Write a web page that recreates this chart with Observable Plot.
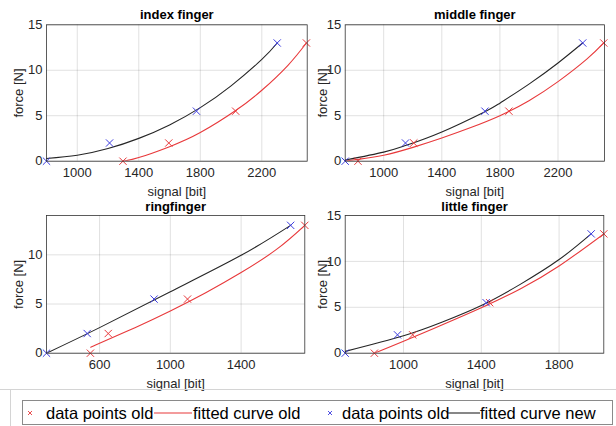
<!DOCTYPE html>
<html>
<head>
<meta charset="utf-8">
<script src="https://cdn.jsdelivr.net/npm/d3@7"></script>
<script src="https://cdn.jsdelivr.net/npm/@observablehq/plot@0.6"></script>
<style>
  html, body { margin: 0; padding: 0; background: #fff; }
  #chart { position: relative; width: 616px; height: 426px; overflow: hidden; font-family: "Liberation Sans", Arial, sans-serif; color: #262626; }
  #chart svg.panel { position: absolute; }
  .legend { position: absolute; left: 22px; top: 400px; width: 591px; height: 25px; box-sizing: border-box; border: 1px solid #8a8a8a; background: #fff; }
  .legend .item { position: absolute; top: 1px; line-height: 22px; font-size: 16.5px; color: #000; white-space: nowrap; }
  .legend svg { position: absolute; top: 0; }
</style>
</head>
<body>
<div id="chart"></div>
<script>
// ---------------- data ----------------
const panelTitles = ["index finger", "middle finger", "ringfinger", "little finger"];
const forceLevels = [0, 2, 5.5, 13];

// index finger
const indexOldX = [1297, 1595, 2030, 2490];
const indexNewX = [800, 1210, 1775, 2300];
const indexOldCurveX = [1297, 1400, 1600, 1800, 2030, 2200, 2370, 2490];
const indexOldCurveY = [0, 0.4, 1.6, 3.15, 5.57, 7.8, 10.55, 13];
const indexNewCurveX = [800, 1000, 1200, 1400, 1600, 1800, 2000, 2200, 2300];
const indexNewCurveY = [0.3, 0.65, 1.39, 2.51, 3.99, 5.89, 8.29, 11.19, 13];

// middle finger
const middleOldX = [823, 1207, 1862, 2515];
const middleNewX = [735, 1150, 1697, 2370];
const middleOldCurveX = [735, 823, 1000, 1207, 1400, 1600, 1800, 2000, 2200, 2400, 2515];
const middleOldCurveY = [0.02, 0.2, 0.65, 1.55, 2.55, 3.7, 5.0, 6.65, 8.75, 11.25, 13];
const middleNewCurveX = [735, 1000, 1150, 1400, 1697, 1800, 2000, 2200, 2370];
const middleNewCurveY = [0.12, 1.0, 1.72, 3.22, 5.45, 6.38, 8.48, 10.8, 13];

// ringfinger
const ringOldX = [548, 649, 1097, 1760];
const ringNewX = [300, 530, 908, 1680];
const ringOldCurveX = [550, 600, 800, 1000, 1200, 1400, 1600, 1760];
const ringOldCurveY = [0.6, 1.0, 2.6, 4.3, 6.15, 8.2, 10.55, 13];
const ringNewCurveX = [300, 600, 1000, 1400, 1680];
const ringNewCurveY = [0, 2.6, 6.25, 9.95, 13];

// little finger
const littleOldX = [850, 1047, 1443, 2030];
const littleNewX = [700, 969, 1425, 1965];
const littleOldCurveX = [850, 1000, 1200, 1400, 1600, 1800, 2030];
const littleOldCurveY = [0, 1.3, 3.1, 4.95, 7.0, 9.5, 13];
const littleNewCurveX = [700, 1000, 1200, 1400, 1600, 1800, 1965];
const littleNewCurveY = [0.2, 1.9, 3.4, 5.2, 7.5, 10.2, 13];

// axes
const xDomains = [[800, 2495], [735, 2520], [300, 1760], [700, 2030]];
const yDomains = [[0, 15], [0, 15], [0, 14], [0, 15]];
const xTickValues = [[1000, 1400, 1800, 2200], [1000, 1400, 1800, 2200], [600, 1000, 1400], [1000, 1400, 1800]];
const yTickValues = [[0, 5, 10, 15], [0, 5, 10, 15], [0, 5, 10], [0, 5, 10, 15]];
const xLabel = "signal [bit]";
const yLabel = "force [N]";
const legendLabels = ["data points old", "fitted curve old", "data points old", "fitted curve new"];

// ---------------- build ----------------
const RED = "#e8393b";
const BLUE = "#3c3ce0";
const BLACK = "#262626";

const pts = (xs) => xs.map((x, i) => ({x, y: forceLevels[i]}));
const crv = (xs, ys) => xs.map((x, i) => ({x, y: ys[i]}));

const panels = [
  {old: pts(indexOldX), nw: pts(indexNewX), oldC: crv(indexOldCurveX, indexOldCurveY), newC: crv(indexNewCurveX, indexNewCurveY),
   left: 0, top: 0, m: {l: 46, r: 1.3, t: 24.3, b: 39.3}},
  {old: pts(middleOldX), nw: pts(middleNewX), oldC: crv(middleOldCurveX, middleOldCurveY), newC: crv(middleNewCurveX, middleNewCurveY),
   left: 308, top: 0, m: {l: 36.7, r: 12, t: 24.3, b: 39.3}},
  {old: pts(ringOldX), nw: pts(ringNewX), oldC: crv(ringOldCurveX, ringOldCurveY), newC: crv(ringNewCurveX, ringNewCurveY),
   left: 0, top: 190, m: {l: 46, r: 3.7, t: 25, b: 37.3}},
  {old: pts(littleOldX), nw: pts(littleNewX), oldC: crv(littleOldCurveX, littleOldCurveY), newC: crv(littleNewCurveX, littleNewCurveY),
   left: 308, top: 190, m: {l: 36.7, r: 12.7, t: 25, b: 37.3}}
];

const chart = document.getElementById("chart");
const fmt = d => String(d);

panels.forEach((p, k) => {
  const svg = Plot.plot({
    width: 308,
    height: 200,
    marginLeft: p.m.l,
    marginRight: p.m.r,
    marginTop: p.m.t,
    marginBottom: p.m.b,
    style: {fontFamily: "'Liberation Sans', Arial, sans-serif", fontSize: "13px", color: "#262626", background: "transparent", overflow: "visible"},
    x: {domain: xDomains[k]},
    y: {domain: yDomains[k]},
    marks: [
      Plot.gridX(xTickValues[k], {stroke: "#000", strokeOpacity: 0.12}),
      Plot.gridY(yTickValues[k], {stroke: "#000", strokeOpacity: 0.12}),
      Plot.line(p.oldC, {x: "x", y: "y", stroke: RED, strokeWidth: 1.1, curve: "natural", clip: true}),
      Plot.line(p.newC, {x: "x", y: "y", stroke: BLACK, strokeWidth: 1.1, curve: "natural", clip: true}),
      Plot.dot(p.old, {x: "x", y: "y", symbol: "times", stroke: RED, strokeWidth: 1, r: 3.4}),
      Plot.dot(p.nw, {x: "x", y: "y", symbol: "times", stroke: BLUE, strokeWidth: 1, r: 3.4}),
      Plot.frame({stroke: "#333", strokeWidth: 0.8}),
      Plot.axisX(xTickValues[k], {tickSize: 0, tickPadding: 7, fontSize: 13, tickFormat: fmt, label: xLabel, labelAnchor: "center", labelArrow: "none", labelOffset: 35}),
      Plot.axisY(yTickValues[k], {tickSize: 0, tickPadding: 4, fontSize: 13, tickFormat: fmt, label: yLabel, labelAnchor: "center", labelArrow: "none", labelOffset: k % 2 === 0 ? 33 : 27}),
      Plot.text([panelTitles[k]], {frameAnchor: "top", lineAnchor: "middle", dy: k < 2 ? -9.5 : -8.5, fontWeight: "bold", fontSize: 13, fill: "#000"})
    ]
  });
  svg.classList.add("panel");
  svg.style.left = p.left + "px";
  svg.style.top = p.top + "px";
  chart.appendChild(svg);
});

// separator lines (light gray) seen at the bottom of the reference
const sep = document.createElementNS("http://www.w3.org/2000/svg", "svg");
sep.setAttribute("width", 616); sep.setAttribute("height", 426);
sep.style.position = "absolute"; sep.style.left = "0px"; sep.style.top = "0px";
sep.innerHTML = '<line x1="0" y1="389.5" x2="616" y2="389.5" stroke="#d4d4d4" stroke-width="1"/>' +
                '<line x1="10.5" y1="389.5" x2="10.5" y2="426" stroke="#d4d4d4" stroke-width="1"/>';
chart.appendChild(sep);

// legend
const legend = document.createElement("div");
legend.className = "legend";
const L = 22; // legend left offset in page
const items = [
  {kind: "x", color: RED, cx: 30},
  {kind: "t", text: legendLabels[0], x: 46},
  {kind: "l", color: RED, x1: 154, x2: 192},
  {kind: "t", text: legendLabels[1], x: 193},
  {kind: "x", color: BLUE, cx: 330},
  {kind: "t", text: legendLabels[2], x: 342},
  {kind: "l", color: BLACK, x1: 448, x2: 480},
  {kind: "t", text: legendLabels[3], x: 480}
];
items.forEach(it => {
  if (it.kind === "t") {
    const s = document.createElement("span");
    s.className = "item";
    s.textContent = it.text;
    s.style.left = (it.x - L - 1) + "px";
    legend.appendChild(s);
  } else if (it.kind === "x") {
    const s = document.createElementNS("http://www.w3.org/2000/svg", "svg");
    s.setAttribute("width", 8); s.setAttribute("height", 23);
    s.style.left = (it.cx - L - 1 - 4) + "px";
    s.innerHTML = `<path d="M2,10 L6,14 M6,10 L2,14" stroke="${it.color}" stroke-width="0.9" fill="none"/>`;
    legend.appendChild(s);
  } else {
    const w = it.x2 - it.x1;
    const s = document.createElementNS("http://www.w3.org/2000/svg", "svg");
    s.setAttribute("width", w); s.setAttribute("height", 23);
    s.style.left = (it.x1 - L - 1) + "px";
    s.innerHTML = `<line x1="0" y1="12" x2="${w}" y2="12" stroke="${it.color}" stroke-width="1.1"/>`;
    legend.appendChild(s);
  }
});
chart.appendChild(legend);
</script>
</body>
</html>
